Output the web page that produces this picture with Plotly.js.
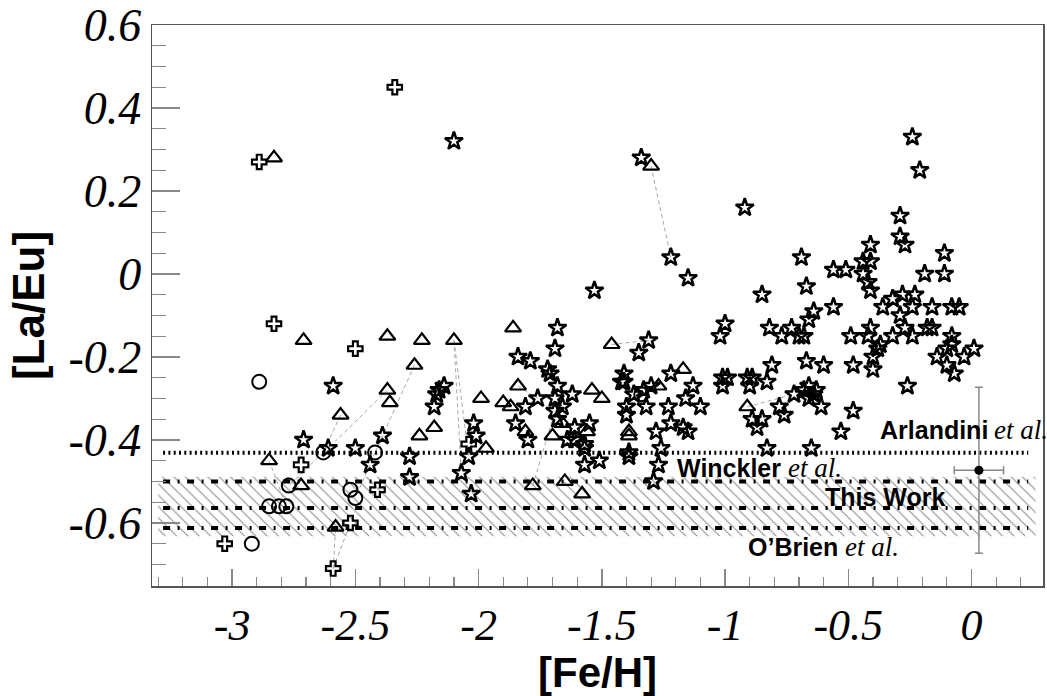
<!DOCTYPE html>
<html>
<head>
<meta charset="utf-8">
<script src="https://cdn.plot.ly/plotly-3.0.1.min.js"></script>
<style>html,body{margin:0;padding:0;background:#fff;}#chart{width:1047px;height:696px;}</style>
</head>
<body>
<div id="chart"></div>
<script>
// ---- data: [Fe/H] (x) and [La/Eu] (y) ----
const starFe = [-2.10,-1.34,-1.22,-1.15,-1.53,-1.68,-1.69,-1.31,-1.00,-1.02,
 -0.24,-0.21,-0.92,-0.29,-0.29,-0.27,-0.41,-0.11,-0.69,-0.56,-0.51,-0.44,-0.41,-0.44,-0.42,-0.41,-0.19,-0.11,
 -0.85,-0.67,-0.56,-0.64,-0.66,-0.36,-0.32,-0.28,-0.23,-0.24,-0.29,-0.16,-0.08,-0.05,
 -0.41,-0.49,-0.42,-0.37,-0.32,-0.27,-0.24,-0.18,-0.16,-0.08,-0.08,-0.10,-0.03,0.01,-0.14,-0.10,-0.07,
 -0.38,-0.40,-0.68,-0.67,-0.60,-0.48,-0.40,-0.26,-0.66,-0.64,-0.61,-0.48,-0.82,-0.73,-0.70,-0.77,
 -0.81,-0.91,-0.89,-0.83,-0.90,-0.72,-0.68,-0.66,-0.63,-0.78,-0.76,-0.89,-0.85,-0.87,-0.53,-0.83,-0.65,
 -1.35,-1.41,-1.41,-1.22,-1.01,-0.99,-1.01,-1.13,-1.30,-1.33,-1.37,-1.32,-1.16,-1.23,-1.10,-1.40,-1.40,
 -1.22,-1.17,-1.15,-1.28,-1.26,-1.39,
 -1.84,-1.79,-1.72,-1.71,-2.14,-2.17,-2.18,-1.76,-1.81,-1.68,-1.62,-1.69,-1.66,-1.69,-1.68,-1.85,-1.80,
 -2.02,-1.61,-1.55,-1.64,-1.61,-1.57,-1.57,-1.42,-2.01,-2.04,
 -2.07,-2.03,-1.57,-1.51,-1.39,-1.29,-1.27,
 -2.59,-2.71,-2.61,-2.50,-2.39,-2.44,-2.28,-2.28,-2.16];
const starLaEu = [0.32,0.28,0.04,-0.01,-0.04,-0.13,-0.18,-0.16,-0.12,-0.15,
 0.33,0.25,0.16,0.14,0.09,0.07,0.07,0.05,0.04,0.01,0.01,0.03,0.03,0.00,-0.02,-0.04,0.00,0.00,
 -0.05,-0.03,-0.08,-0.09,-0.11,-0.08,-0.06,-0.05,-0.05,-0.08,-0.10,-0.08,-0.08,-0.08,
 -0.13,-0.15,-0.15,-0.17,-0.15,-0.13,-0.15,-0.13,-0.13,-0.15,-0.17,-0.18,-0.20,-0.18,-0.20,-0.22,-0.24,
 -0.18,-0.20,-0.15,-0.21,-0.22,-0.22,-0.23,-0.27,-0.27,-0.29,-0.32,-0.33,-0.13,-0.13,-0.15,-0.15,
 -0.22,-0.25,-0.25,-0.26,-0.27,-0.29,-0.28,-0.30,-0.28,-0.32,-0.34,-0.35,-0.35,-0.37,-0.38,-0.42,-0.42,
 -0.19,-0.24,-0.26,-0.24,-0.25,-0.25,-0.27,-0.27,-0.27,-0.28,-0.29,-0.32,-0.30,-0.32,-0.32,-0.32,-0.34,
 -0.36,-0.37,-0.38,-0.38,-0.42,-0.43,
 -0.20,-0.21,-0.23,-0.24,-0.27,-0.29,-0.32,-0.30,-0.32,-0.27,-0.29,-0.30,-0.32,-0.33,-0.35,-0.36,-0.40,
 -0.36,-0.37,-0.36,-0.40,-0.40,-0.41,-0.42,-0.26,-0.39,-0.44,
 -0.48,-0.53,-0.46,-0.45,-0.44,-0.50,-0.46,
 -0.27,-0.40,-0.42,-0.42,-0.39,-0.46,-0.44,-0.49,-0.28];

const triFe = [-2.83,-1.30,-2.71,-2.37,-2.23,-2.10,-2.26,-2.37,-2.36,-2.56,-2.18,-2.24,-2.85,-2.72,-2.58,
 -1.86,-1.99,-1.90,-1.87,-1.84,-1.81,-1.97,-1.78,-1.70,-1.65,-1.58,-1.54,-1.50,-1.46,-1.39,-1.39,-1.17,-1.27,-1.66,-1.56,-0.91];
const triLaEu = [0.28,0.26,-0.16,-0.15,-0.16,-0.16,-0.22,-0.28,-0.31,-0.34,-0.37,-0.39,-0.45,-0.51,-0.61,
 -0.13,-0.30,-0.31,-0.32,-0.27,-0.38,-0.42,-0.51,-0.39,-0.50,-0.53,-0.28,-0.30,-0.17,-0.39,-0.38,-0.23,-0.27,-0.36,-0.38,-0.32];

const crossFe = [-2.89,-2.34,-2.83,-2.50,-2.72,-2.41,-2.52,-2.59,-3.03,-2.04];
const crossLaEu = [0.27,0.45,-0.12,-0.18,-0.46,-0.52,-0.60,-0.71,-0.65,-0.41];

const circFe = [-2.89,-2.63,-2.42,-2.77,-2.85,-2.81,-2.78,-2.52,-2.50,-2.92,-1.34];
const circLaEu = [-0.26,-0.43,-0.43,-0.51,-0.56,-0.56,-0.56,-0.52,-0.54,-0.65,-0.29];

// same stars measured by different authors (grey dashed connections)
const linkFe = [-1.30,-1.22,null,-2.10,-2.07,null,-2.10,-2.04,null,-2.59,-2.58,null,-2.59,-2.52,null,
 -2.26,-2.42,null,-2.56,-2.63,null,-2.42,-2.50,null,-2.63,-2.77,null,-1.78,-1.69,null,-1.46,-1.31,null,
 -1.84,-1.76,null,-0.91,-0.72,null,-2.37,-2.61,null,-2.85,-2.78];
const linkLaEu = [0.26,0.04,null,-0.16,-0.48,null,-0.16,-0.44,null,-0.71,-0.61,null,-0.71,-0.60,null,
 -0.22,-0.43,null,-0.34,-0.43,null,-0.43,-0.54,null,-0.43,-0.51,null,-0.51,-0.33,null,-0.17,-0.16,null,
 -0.27,-0.30,null,-0.32,-0.29,null,-0.28,-0.42,null,-0.45,-0.56];

// reference solar-system ratios
const refNames = ["Arlandini", "Winckler", "This Work", "O\u2019Brien"];
const refLaEu = [-0.431, -0.500, -0.564, -0.612];
const refFeStart = -3.28, refFeEnd = 0.23;
const bandLaEu = [-0.489, -0.632];
const bandFe = [-3.30, 0.26];

// typical error bar
const errFe = [0.03], errLaEu = [-0.473], errFeSize = [0.10], errLaEuSize = [0.20];

// ticks
const xTickVals = [-3, -2.5, -2, -1.5, -1, -0.5, 0];
const xTickText = ["-3", "-2.5", "-2", "-1.5", "-1", "-0.5", "0"];
const yTickVals = [-0.6, -0.4, -0.2, 0, 0.2, 0.4, 0.6];
const yTickText = ["-0.6", "-0.4", "-0.2", "0", "0.2", "0.4", "0.6"];

const traces = [];
// hatched band
traces.push({
  x: [bandFe[0], bandFe[1], bandFe[1], bandFe[0], bandFe[0]],
  y: [bandLaEu[0], bandLaEu[0], bandLaEu[1], bandLaEu[1], bandLaEu[0]],
  mode: 'lines', fill: 'toself', line: {width: 0}, fillcolor: 'rgba(0,0,0,0)',
  fillpattern: {shape: '\\', fgcolor: '#888', bgcolor: 'rgba(255,255,255,0)', size: 8, solidity: 0.13},
  hoverinfo: 'skip'
});
// connection lines
traces.push({x: linkFe, y: linkLaEu, mode: 'lines', line: {color: '#a8a8a8', width: 1, dash: '4px,3px'}, hoverinfo: 'skip'});
// reference lines
refLaEu.forEach((v, i) => {
  traces.push({
    x: [refFeStart, refFeEnd], y: [v, v], mode: 'lines', name: refNames[i],
    line: {color: '#000', width: 4, dash: i === 0 ? '2px,3.3px' : '7px,7.5px,2px,7.5px'}
  });
});
// data
const mk = (sym, size, lw) => ({symbol: sym, size: size, color: '#000', line: {width: lw, color: '#000'}});
traces.push({x: starFe, y: starLaEu, mode: 'markers', marker: mk('star-open', 13.5, 2.5)});
traces.push({x: triFe, y: triLaEu, mode: 'markers', marker: mk('triangle-up-open', 14, 2.2)});
traces.push({x: circFe, y: circLaEu, mode: 'markers', marker: mk('circle-open', 14, 2)});
traces.push({x: crossFe, y: crossLaEu, mode: 'markers', marker: mk('cross-open', 12, 2.2)});
// error bar point
traces.push({
  x: errFe, y: errLaEu, mode: 'markers', marker: {symbol: 'circle', size: 9, color: '#000'},
  error_x: {type: 'data', array: errFeSize, color: '#888', thickness: 1.5, width: 4},
  error_y: {type: 'data', array: errLaEuSize, color: '#888', thickness: 1.5, width: 4}
});

const sans = 'Liberation Sans, Arial, sans-serif';
const serif = 'Liberation Serif, Times New Roman, serif';
const nameFont = {family: sans, size: 25, weight: 'bold', color: '#000'};
const etalFont = {family: serif, size: 27, style: 'italic', color: '#000'};
const ann = (x, y, text, font, anchor) => ({x: x, y: y, xref: 'x', yref: 'y', xanchor: anchor, yanchor: 'middle',
  showarrow: false, text: text, font: font});

const layout = {
  width: 1047, height: 696,
  margin: {l: 152, r: 4, t: 25, b: 110},
  paper_bgcolor: '#fff', plot_bgcolor: '#fff',
  showlegend: false,
  xaxis: {
    range: [-3.325, 0.29], showgrid: false, zeroline: false,
    showline: true, mirror: true, linecolor: '#555', linewidth: 1.5,
    tickmode: 'array', tickvals: xTickVals, ticktext: xTickText,
    ticks: 'inside', ticklen: 17, tickwidth: 1.5, tickcolor: '#888',
    minor: {tick0: 0, dtick: 0.1, ticks: 'inside', ticklen: 9, tickwidth: 1.2, tickcolor: '#888', showgrid: false},
    tickfont: {family: serif, size: 44, style: 'italic', color: '#000'},
    title: {text: '[Fe/H]', font: {family: sans, size: 42, weight: 'bold', color: '#000'}, standoff: 12}
  },
  yaxis: {
    range: [-0.752, 0.6], showgrid: false, zeroline: false,
    showline: true, mirror: true, linecolor: '#555', linewidth: 1.5,
    tickmode: 'array', tickvals: yTickVals, ticktext: yTickText,
    ticks: 'inside', ticklen: 28, tickwidth: 1.5, tickcolor: '#888',
    minor: {tick0: 0, dtick: 0.05, ticks: 'inside', ticklen: 14, tickwidth: 1.2, tickcolor: '#888', showgrid: false},
    tickfont: {family: serif, size: 46, style: 'italic', color: '#000'},
    title: {text: '[La/Eu]', font: {family: sans, size: 44, weight: 'bold', color: '#000'}, standoff: 10}
  },
  annotations: [
    ann(0.075, -0.376, refNames[0], nameFont, 'right'),
    ann(0.085, -0.376, 'et al.', etalFont, 'left'),
    ann(-0.765, -0.467, refNames[1], nameFont, 'right'),
    ann(-0.752, -0.467, 'et al.', etalFont, 'left'),
    ann(-0.35, -0.537, refNames[2], nameFont, 'center'),
    ann(-0.533, -0.658, refNames[3], nameFont, 'right'),
    ann(-0.520, -0.658, 'et al.', etalFont, 'left')
  ]
};

Plotly.newPlot('chart', traces, layout, {displayModeBar: false, staticPlot: true});
</script>
</body>
</html>
